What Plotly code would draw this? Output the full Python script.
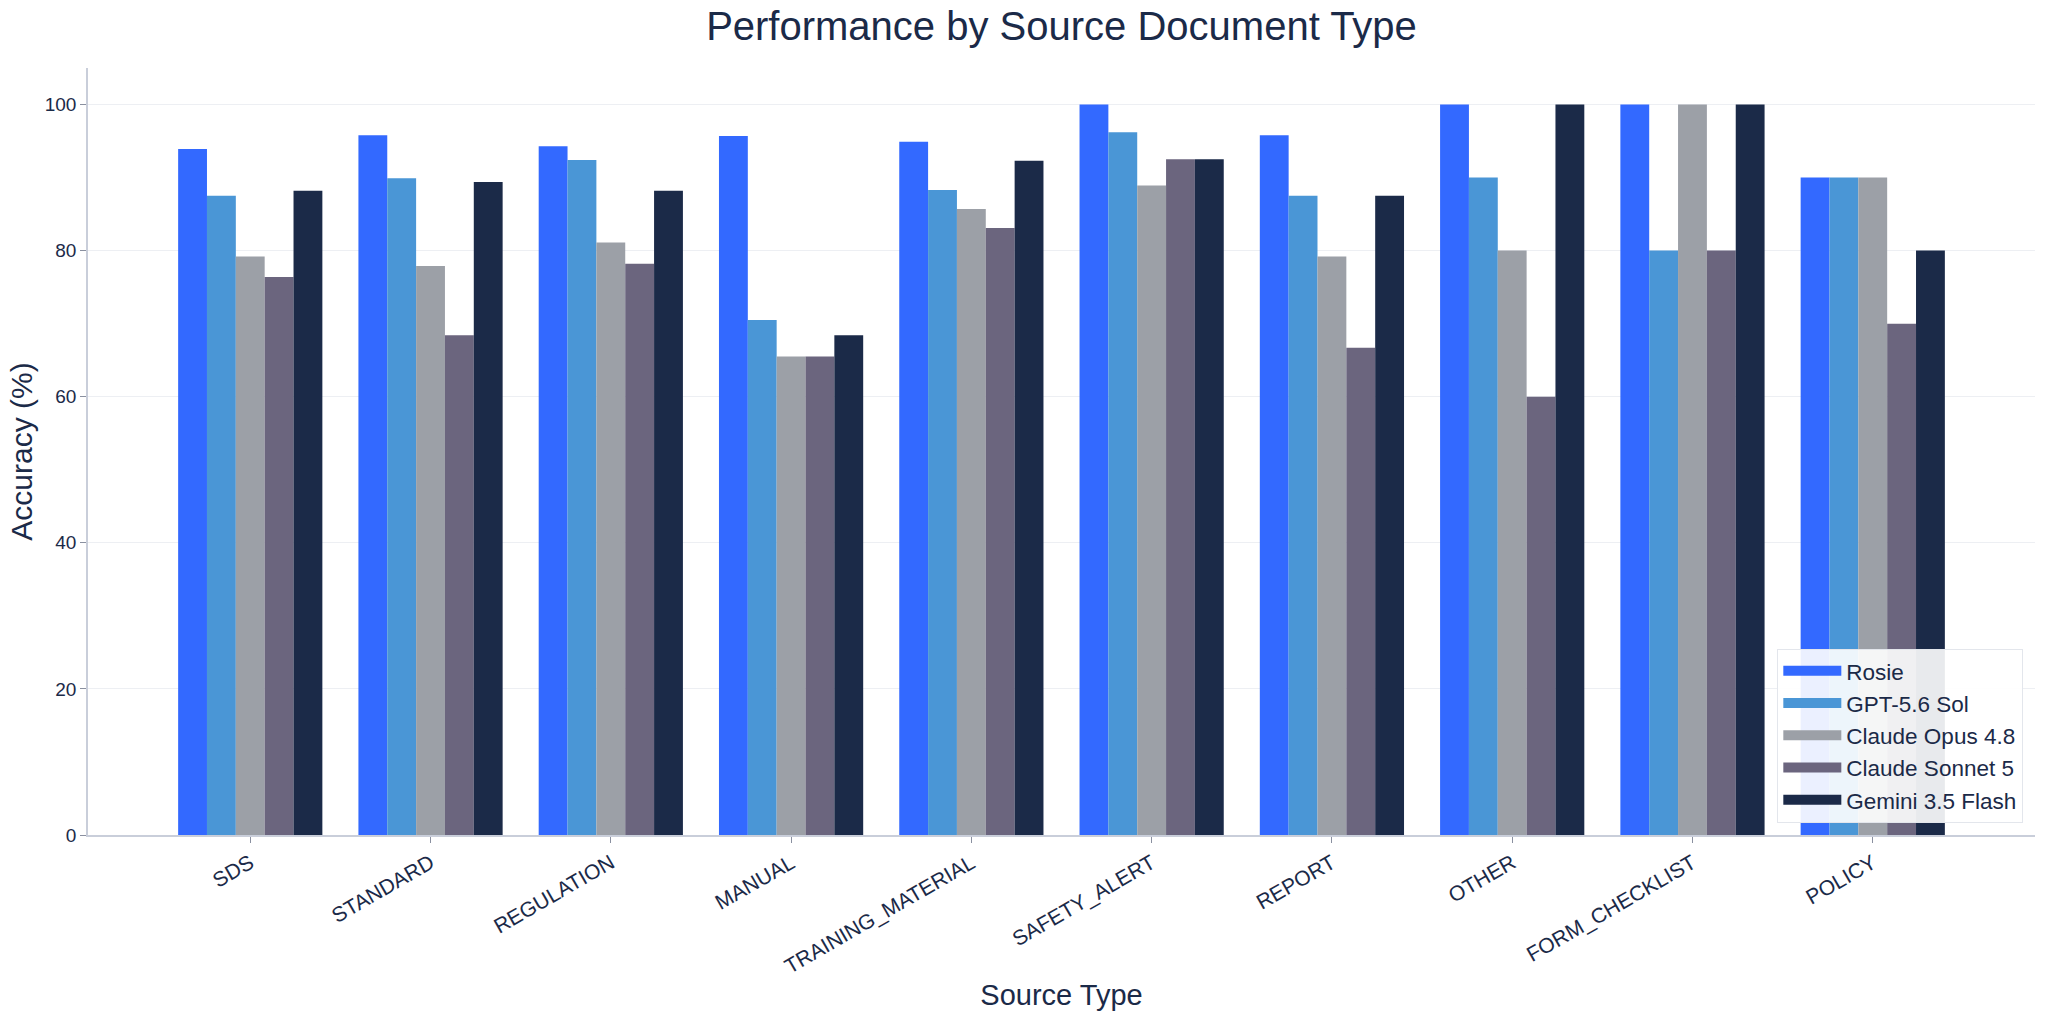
import plotly.graph_objects as go

categories = ["SDS", "STANDARD", "REGULATION", "MANUAL", "TRAINING_MATERIAL",
              "SAFETY_ALERT", "REPORT", "OTHER", "FORM_CHECKLIST", "POLICY"]

rosie = [93.9, 95.8, 94.3, 95.7, 94.9, 100.0, 95.8, 100.0, 100.0, 90.0]
gpt_56_sol = [87.5, 89.9, 92.4, 70.5, 88.3, 96.2, 87.5, 90.0, 80.0, 90.0]
claude_opus_48 = [79.2, 77.9, 81.1, 65.5, 85.7, 88.9, 79.2, 80.0, 100.0, 90.0]
claude_sonnet_5 = [76.4, 68.4, 78.2, 65.5, 83.1, 92.5, 66.7, 60.0, 80.0, 70.0]
gemini_35_flash = [88.2, 89.4, 88.2, 68.4, 92.3, 92.5, 87.5, 100.0, 100.0, 80.0]

series_names = ["Rosie", "GPT-5.6 Sol", "Claude Opus 4.8", "Claude Sonnet 5", "Gemini 3.5 Flash"]
series_values = [rosie, gpt_56_sol, claude_opus_48, claude_sonnet_5, gemini_35_flash]
series_colors = ["#3369FF", "#4A96D6", "#9CA0A7", "#6B657E", "#1B2A48"]

y_ticks = [0, 20, 40, 60, 80, 100]
dotted_grid_ticks = [20, 80]

TEXT = "#1B2A48"
FONT = "Liberation Sans, Arial, sans-serif"

fig = go.Figure()
for name, vals, col in zip(series_names, series_values, series_colors):
    fig.add_trace(go.Bar(x=categories, y=vals, name=name, marker=dict(color=col, line=dict(width=0)),
                         showlegend=False))
# legend entries drawn as wide swatches
for name, col in zip(series_names, series_colors):
    fig.add_trace(go.Scatter(x=[None], y=[None], mode="lines", name=name,
                             line=dict(color=col, width=16), showlegend=True))

fig.update_layout(
    width=2045, height=1017,
    paper_bgcolor="white", plot_bgcolor="white",
    barmode="group", bargap=0.2, bargroupgap=0,
    margin=dict(l=88, r=10, t=68, b=182, autoexpand=False),
    font=dict(family=FONT, color=TEXT, size=18),
    title=dict(text="Performance by Source Document Type", x=0.5, xref="paper", xanchor="center",
               y=0.974, yanchor="middle", font=dict(size=40, color=TEXT, family=FONT)),
    legend=dict(x=0.994, y=0.016, xanchor="right", yanchor="bottom",
                bgcolor="rgba(255,255,255,0.9)", bordercolor="#E3E6EC", borderwidth=1,
                font=dict(size=22.5, color=TEXT, family=FONT), tracegroupgap=0,
                itemwidth=58),
    xaxis=dict(
        type="category", range=[-0.9, 9.9], automargin=False,
        title=dict(text="Source Type", font=dict(size=29, color=TEXT), standoff=7),
        tickangle=-30, tickfont=dict(size=21, color=TEXT),
        showline=True, linecolor="#C9CEDA", linewidth=1.5,
        ticks="outside", ticklen=6, tickcolor="#8A90A0", showgrid=False, zeroline=False,
    ),
    yaxis=dict(
        range=[0, 105], tickvals=y_ticks, automargin=False,
        title=dict(text="Accuracy (%)", font=dict(size=30, color=TEXT), standoff=3),
        tickfont=dict(size=19, color=TEXT),
        showline=True, linecolor="#C9CEDA", linewidth=1.5,
        ticks="outside", ticklen=6, tickcolor="#8A90A0",
        showgrid=True, gridcolor="#EDEFF3", gridwidth=1, zeroline=False,
    ),
    yaxis2=dict(
        overlaying="y", anchor="x", range=[0, 105], tickvals=dotted_grid_ticks,
        showticklabels=False, ticks="", showline=False, zeroline=False, automargin=False,
        showgrid=True, gridcolor="#C3C8D4", gridwidth=1, griddash="dot",
    ),
)

fig.write_html("out.html")
